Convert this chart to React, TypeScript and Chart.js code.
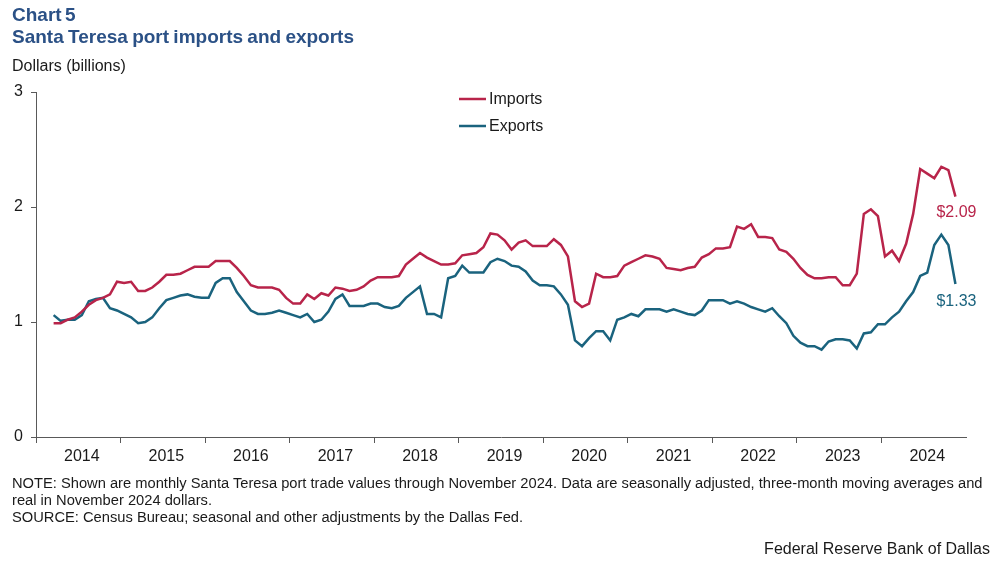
import React, { useEffect, useRef } from "react";
import { Chart, registerables } from "chart.js";

Chart.register(...registerables);

const years = ["2014", "2015", "2016", "2017", "2018", "2019", "2020", "2021", "2022", "2023", "2024"];
const monthNames = ["Jan", "Feb", "Mar", "Apr", "May", "Jun", "Jul", "Aug", "Sep", "Oct", "Nov", "Dec"];
const yTicks = [0, 1, 2, 3];

// Monthly values, March 2014 – November 2024 (billions of dollars)
const imports = [
  0.99, 0.99, 1.02, 1.04, 1.09, 1.15, 1.19, 1.21, 1.24, 1.35,
  1.34, 1.35, 1.27, 1.27, 1.30, 1.35, 1.41, 1.41, 1.42, 1.45,
  1.48, 1.48, 1.48, 1.53, 1.53, 1.53, 1.47, 1.40, 1.32, 1.30,
  1.30, 1.30, 1.28, 1.21, 1.16, 1.16, 1.24, 1.20, 1.25, 1.23,
  1.30, 1.29, 1.27, 1.28, 1.31, 1.36, 1.39, 1.39, 1.39, 1.40,
  1.50, 1.55, 1.60, 1.56, 1.53, 1.50, 1.50, 1.51, 1.58, 1.59,
  1.60, 1.65, 1.77, 1.76, 1.71, 1.63, 1.69, 1.71, 1.66, 1.66,
  1.66, 1.72, 1.67, 1.57, 1.18, 1.13, 1.16, 1.42, 1.39, 1.39,
  1.40, 1.49, 1.52, 1.55, 1.58, 1.57, 1.55, 1.47, 1.46, 1.45,
  1.47, 1.48, 1.56, 1.59, 1.64, 1.64, 1.65, 1.83, 1.81, 1.85,
  1.74, 1.74, 1.73, 1.63, 1.61, 1.55, 1.47, 1.41, 1.38, 1.38,
  1.39, 1.39, 1.32, 1.32, 1.42, 1.94, 1.98, 1.92, 1.57, 1.62,
  1.53, 1.68, 1.94, 2.33, 2.29, 2.25, 2.35, 2.32, 2.09,
];

const exportsData = [
  1.06, 1.01, 1.02, 1.02, 1.06, 1.18, 1.20, 1.21, 1.12, 1.10,
  1.07, 1.04, 0.99, 1.00, 1.04, 1.12, 1.19, 1.21, 1.23, 1.24,
  1.22, 1.21, 1.21, 1.34, 1.38, 1.38, 1.26, 1.18, 1.10, 1.07,
  1.07, 1.08, 1.10, 1.08, 1.06, 1.04, 1.07, 1.00, 1.02, 1.09,
  1.20, 1.24, 1.14, 1.14, 1.14, 1.16, 1.16, 1.13, 1.12, 1.14,
  1.21, 1.26, 1.31, 1.07, 1.07, 1.04, 1.38, 1.40, 1.49, 1.43,
  1.43, 1.43, 1.52, 1.55, 1.53, 1.49, 1.48, 1.44, 1.36, 1.32,
  1.32, 1.31, 1.24, 1.15, 0.84, 0.79, 0.86, 0.92, 0.92, 0.84,
  1.02, 1.04, 1.07, 1.05, 1.11, 1.11, 1.11, 1.09, 1.11, 1.09,
  1.07, 1.06, 1.10, 1.19, 1.19, 1.19, 1.16, 1.18, 1.16, 1.13,
  1.11, 1.09, 1.12, 1.05, 0.99, 0.88, 0.82, 0.79, 0.79, 0.76,
  0.83, 0.85, 0.85, 0.84, 0.77, 0.90, 0.91, 0.98, 0.98, 1.04,
  1.09, 1.18, 1.26, 1.40, 1.43, 1.67, 1.76, 1.67, 1.33,
];

const monthsBeforeData = 2; // Jan and Feb 2014 have no values

const IMPORTS_COLOR = "#b8244a";
const EXPORTS_COLOR = "#1a637e";
const AXIS_COLOR = "#595959";
const FONT = '"Liberation Sans", Arial, sans-serif';

const labels = years.flatMap((y) => monthNames.map((m) => `${m} ${y}`));
const pad = Array(monthsBeforeData).fill(null);

const overlayPlugin = {
  id: "overlay",
  afterDatasetsDraw(chart: any) {
    const ctx = chart.ctx;
    ctx.save();
    ctx.font = `16px ${FONT}`;
    ctx.textBaseline = "middle";
    ctx.textAlign = "left";
    // legend
    const items = [
      { text: "Imports", color: IMPORTS_COLOR, y: 99 },
      { text: "Exports", color: EXPORTS_COLOR, y: 126 },
    ];
    items.forEach((it) => {
      ctx.strokeStyle = it.color;
      ctx.lineWidth = 2.5;
      ctx.beginPath();
      ctx.moveTo(459, it.y);
      ctx.lineTo(486, it.y);
      ctx.stroke();
      ctx.fillStyle = "#1a1a1a";
      ctx.fillText(it.text, 489, it.y + 1);
    });
    // end labels
    ctx.textAlign = "center";
    chart.data.datasets.forEach((ds: any, i: number) => {
      const meta = chart.getDatasetMeta(i);
      const last = meta.data[meta.data.length - 1];
      const val = ds.data[ds.data.length - 1];
      ctx.fillStyle = ds.borderColor;
      ctx.fillText(`$${val.toFixed(2)}`, last.x + 1, last.y + (i === 0 ? 16 : 18));
    });
    ctx.restore();
  },
};

export default function App() {
  const canvasRef = useRef<HTMLCanvasElement>(null);

  useEffect(() => {
    const canvas = canvasRef.current!;
    const chart = new Chart(canvas, {
      type: "line",
      data: {
        labels,
        datasets: [
          {
            label: "Imports",
            data: [...pad, ...imports],
            borderColor: IMPORTS_COLOR,
            backgroundColor: IMPORTS_COLOR,
            borderWidth: 2.5,
            pointRadius: 0,
            tension: 0,
          },
          {
            label: "Exports",
            data: [...pad, ...exportsData],
            borderColor: EXPORTS_COLOR,
            backgroundColor: EXPORTS_COLOR,
            borderWidth: 2.5,
            pointRadius: 0,
            tension: 0,
          },
        ],
      },
      options: {
        responsive: false,
        animation: false,
        devicePixelRatio: 1,
        layout: { padding: { left: 0, right: 30, top: 92, bottom: 0 } },
        plugins: { legend: { display: false }, tooltip: { enabled: false }, title: { display: false } },
        scales: {
          x: {
            type: "category",
            offset: true,
            grid: {
              offset: true,
              drawOnChartArea: false,
              tickLength: 6,
              tickColor: (c: any) => (c.index % 12 === 0 ? AXIS_COLOR : "rgba(0,0,0,0)"),
              lineWidth: 1,
            },
            border: { color: AXIS_COLOR, width: 1 },
            ticks: {
              autoSkip: false,
              maxRotation: 0,
              minRotation: 0,
              padding: 4,
              color: "#1a1a1a",
              font: { family: FONT, size: 16 },
              callback: (_v: any, i: number) => (i % 12 === 6 ? years[Math.floor(i / 12)] : ""),
            },
            afterFit: (s: any) => {
              s.height = 127;
            },
          },
          y: {
            min: 0,
            max: 3,
            afterBuildTicks: (s: any) => {
              s.ticks = yTicks.map((v) => ({ value: v }));
            },
            grid: { drawOnChartArea: false, tickLength: 5, tickColor: AXIS_COLOR },
            border: { color: AXIS_COLOR, width: 1 },
            ticks: {
              color: "#1a1a1a",
              padding: 8,
              font: { family: FONT, size: 16 },
              callback: (v: any) => String(v),
            },
            afterFit: (s: any) => {
              s.width = 36;
            },
          },
        },
      },
      plugins: [overlayPlugin],
    });
    return () => chart.destroy();
  }, []);

  const text: React.CSSProperties = { position: "absolute", left: 12, margin: 0, whiteSpace: "nowrap" };

  return (
    <div style={{ position: "absolute", left: 0, top: 0, width: 996, height: 564, background: "#fff", fontFamily: FONT, color: "#1a1a1a" }}>
      <canvas ref={canvasRef} width={996} height={564} style={{ position: "absolute", left: 0, top: 0, width: 996, height: 564 }} />
      <div style={{ ...text, top: 4, fontSize: 19, fontWeight: "bold", color: "#2b5186", wordSpacing: -2, lineHeight: "22px" }}>Chart 5</div>
      <div style={{ ...text, top: 26, fontSize: 19, fontWeight: "bold", color: "#2b5186", wordSpacing: -1, lineHeight: "22px" }}>Santa Teresa port imports and exports</div>
      <div style={{ ...text, top: 56, fontSize: 16, lineHeight: "20px" }}>Dollars (billions)</div>
      <div style={{ ...text, top: 475, fontSize: 14.7, lineHeight: "17px" }}>
        NOTE: Shown are monthly Santa Teresa port trade values through November 2024. Data are seasonally adjusted, three-month moving averages and
        <br />
        real in November 2024 dollars.
        <br />
        SOURCE: Census Bureau; seasonal and other adjustments by the Dallas Fed.
      </div>
      <div style={{ position: "absolute", right: 6, top: 540, fontSize: 16, lineHeight: "18px", whiteSpace: "nowrap" }}>Federal Reserve Bank of Dallas</div>
    </div>
  );
}
